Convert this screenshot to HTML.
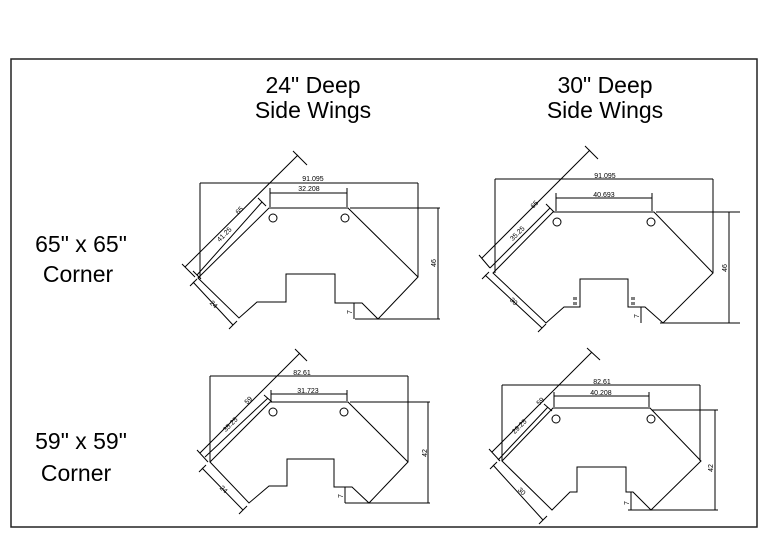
<!DOCTYPE html>
<html><head><meta charset="utf-8"><style>
html,body{margin:0;padding:0;background:#fff;width:768px;height:543px;overflow:hidden}
svg{display:block}
.t{font-family:"Liberation Sans",sans-serif;font-size:23px;fill:#000;text-anchor:middle}
.s{font-family:"Liberation Sans",sans-serif;font-size:7px;fill:#000;text-anchor:middle}
</style></head><body>
<svg width="768" height="543" viewBox="0 0 768 543">
<rect x="11" y="59" width="746" height="468" fill="none" stroke="#222" stroke-width="1.5"/>
<text class="t" x="313" y="93">24" Deep</text>
<text class="t" x="313" y="118">Side Wings</text>
<text class="t" x="605" y="93">30" Deep</text>
<text class="t" x="605" y="118">Side Wings</text>
<text class="t" x="81" y="252">65" x 65"</text>
<text class="t" x="78" y="282">Corner</text>
<text class="t" x="81" y="449">59" x 59"</text>
<text class="t" x="76" y="481">Corner</text>

<g fill="none" stroke="#000" stroke-width="1">
<!-- TL -->
<path d="M269,208 L348,208 L418,277 L378,319 L362,303 L335,303 L335,274 L286,274 L286,302 L257,302 L239,318 L198,278 Z"/>
<circle cx="273" cy="218" r="4"/><circle cx="345" cy="218" r="4"/>
<path d="M200,183 H418 M200,183 V278 M418,183 V277"/>
<path d="M270,193 H347 M270,188 V207 M347,188 V207"/>
<path d="M185,267 L298,155 M182,264 L195,277 M293,151 L307,165"/>
<path d="M197,275 L262,202 M258,198 L266,206 M193,271 L201,279"/>
<path d="M193,282 L233,325 M190,286 L197,279 M229,329 L237,321"/>
<path d="M350,208 H440 M355,319 H440 M438,208 V319 M354,303 V319"/>
<!-- TR -->
<path d="M553,212 L654,212 L713,273 L663,323 L645,307 L628,307 L628,279 L580,279 L580,307 L564,307 L546,323 L493,273 Z"/>
<circle cx="557" cy="222" r="4"/><circle cx="651" cy="222" r="4"/>
<path d="M495,179 H713 M495,179 V273 M713,179 V273"/>
<path d="M556,198 H652 M556,193 V211 M652,193 V211"/>
<path d="M482,258 L590,150 M479,255 L490,268 M585,146 L598,159"/>
<path d="M490,268 L550,208 M546,204 L554,212"/>
<path d="M485,275 L542,328 M482,279 L489,272 M538,332 L546,324"/>
<path d="M656,212 H740 M660,323 H740 M729,212 V323 M641,307 V323"/>
<path d="M574,297 V300 M576,297 V300 M574,302 V305 M576,302 V305 M632,297 V300 M634,297 V300 M632,302 V305 M634,302 V305"/>
<!-- BL -->
<path d="M270,402 L348,402 L408,462 L369,503 L352,487 L334,487 L334,459 L287,459 L287,486 L269,486 L249,503 L210,462 Z"/>
<circle cx="273" cy="412" r="4"/><circle cx="344" cy="412" r="4"/>
<path d="M210,376 H408 M210,376 V462 M408,376 V462"/>
<path d="M271,394 H347 M271,390 V401 M347,390 V401"/>
<path d="M200,453 L300,353 M197,450 L208,462 M295,349 L307,361"/>
<path d="M205,457 L268,398 M264,395 L272,402"/>
<path d="M202,468 L243,510 M199,472 L206,465 M239,514 L247,506"/>
<path d="M350,402 H430 M345,503 H430 M428,402 V503 M345,487 V503"/>
<!-- BR -->
<path d="M553,408 L650,408 L701,461 L651,510 L633,492 L626,492 L626,467 L577,467 L577,492 L570,492 L552,510 L502,461 Z"/>
<circle cx="556" cy="419" r="4"/><circle cx="651" cy="419" r="4"/>
<path d="M502,385 H700 M502,385 V461 M700,385 V461"/>
<path d="M554,396 H649 M554,392 V407 M649,392 V407"/>
<path d="M492,452 L592,352 M489,449 L500,461 M587,348 L600,360"/>
<path d="M498,460 L548,407 M544,404 L552,411"/>
<path d="M493,465 L543,520 M490,469 L497,462 M539,524 L547,516"/>
<path d="M652,410 H718 M628,510 H718 M715,410 V510 M631,492 V510"/>
</g>

<text class="s" x="313" y="181">91.095</text>
<text class="s" x="309" y="191">32.208</text>
<text class="s" transform="translate(241,212) rotate(-45)">65</text>
<text class="s" transform="translate(226,236) rotate(-45)">41.25</text>
<text class="s" transform="translate(212,306) rotate(45)">24</text>
<text class="s" transform="translate(436,263) rotate(-90)">46</text>
<text class="s" transform="translate(352,312) rotate(-90)">7</text>

<text class="s" x="605" y="178">91.095</text>
<text class="s" x="604" y="197">40.693</text>
<text class="s" transform="translate(536,206) rotate(-45)">65</text>
<text class="s" transform="translate(519,235) rotate(-45)">35.25</text>
<text class="s" transform="translate(512,303) rotate(45)">30</text>
<text class="s" transform="translate(727,268) rotate(-90)">46</text>
<text class="s" transform="translate(639,316) rotate(-90)">7</text>

<text class="s" x="302" y="375">82.61</text>
<text class="s" x="308" y="393">31.723</text>
<text class="s" transform="translate(250,402) rotate(-45)">59</text>
<text class="s" transform="translate(232,426) rotate(-45)">35.25</text>
<text class="s" transform="translate(222,491) rotate(45)">24</text>
<text class="s" transform="translate(427,453) rotate(-90)">42</text>
<text class="s" transform="translate(343,496) rotate(-90)">7</text>

<text class="s" x="602" y="384">82.61</text>
<text class="s" x="601" y="395">40.208</text>
<text class="s" transform="translate(542,403) rotate(-45)">59</text>
<text class="s" transform="translate(521,428) rotate(-45)">29.25</text>
<text class="s" transform="translate(520,493) rotate(45)">30</text>
<text class="s" transform="translate(713,468) rotate(-90)">42</text>
<text class="s" transform="translate(629,503) rotate(-90)">7</text>
</svg>
</body></html>
